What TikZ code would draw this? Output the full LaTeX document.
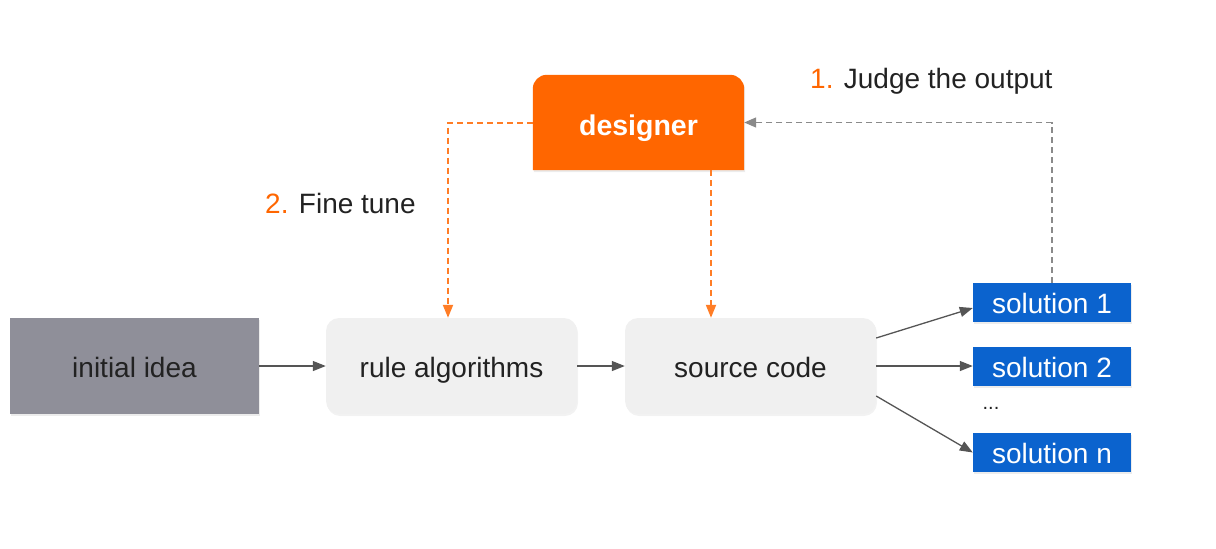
\documentclass[tikz,border=0pt]{standalone}
\usepackage{fontspec}
\setmainfont{Liberation Sans}
\usetikzlibrary{arrows.meta,shadows,backgrounds,calc}

\definecolor{ideagray}{HTML}{8F8F99}
\definecolor{boxgray}{HTML}{F0F0F0}
\definecolor{accent}{HTML}{FF6600}
\definecolor{solblue}{HTML}{0B63CE}
\definecolor{ink}{HTML}{222222}
\definecolor{wire}{HTML}{555555}
\definecolor{dashgray}{HTML}{8A8A8A}

\tikzset{
  base/.style={inner sep=0pt, align=center, text=ink, font=\fontsize{28}{32}\selectfont,
    text height=22pt, text depth=0pt},
  idea/.style={base, fill=ideagray, minimum width=249pt, minimum height=96pt,
    drop shadow={shadow xshift=1pt, shadow yshift=-2pt, opacity=0.15}},
  stage/.style={base, fill=boxgray, rounded corners=13pt, minimum width=251pt, minimum height=96pt,
    drop shadow={shadow xshift=1pt, shadow yshift=-2pt, opacity=0.1}},
  designerbox/.style={base, text=white, font=\fontsize{28.5}{32}\selectfont\bfseries,
    text height=25pt, minimum width=211pt, minimum height=95pt},
  solution/.style={base, fill=solblue, text=white, font=\fontsize{28}{32}\selectfont,
    text height=21.5pt, minimum width=158pt, minimum height=39pt,
    drop shadow={shadow xshift=1pt, shadow yshift=-1.5pt, opacity=0.15}},
  flow/.style={draw=wire, line width=1.3pt, -{Triangle[length=13pt,width=10pt]}},
  tune/.style={draw=accent!85!white, line width=2pt, dash pattern=on 6pt off 4pt,
    -{Triangle[length=13pt,width=10pt]}},
  judge/.style={draw=dashgray, line width=1.4pt, dash pattern=on 6pt off 4pt,
    -{Triangle[length=12pt,width=10pt]}},
  caption/.style={inner sep=0pt, text=ink, anchor=base west, font=\fontsize{28}{32}\selectfont},
}

\begin{document}
\begin{tikzpicture}[x=1pt, y=-1pt]
  \useasboundingbox (0,0) rectangle (1216,549);

  % main pipeline
  \node[idea]  (idea) at (134.5,366) {initial idea};
  \node[stage] (rule) at (451.5,366) {rule algorithms};
  \node[stage] (src)  at (750.5,366) {source code};

  % designer box: rounded top corners, square bottom
  \node[designerbox] (des) at (638.5,122.5) {designer};
  \begin{scope}[on background layer]
    \fill[accent, drop shadow={shadow xshift=1pt, shadow yshift=-2pt, opacity=0.15}]
      (des.south west) [rounded corners=14pt] -- (des.north west) -- (des.north east)
      [sharp corners] -- (des.south east) -- cycle;
  \end{scope}

  % generated solutions
  \node[solution] (s1) at (1052,302.5) {solution 1};
  \node[solution] (s2) at (1052,366.5) {solution 2};
  \node[solution] (sn) at (1052,452.5) {solution n};
  \node[base, font=\fontsize{20}{24}\selectfont, text height=10pt] (dots) at (991,404) {...};

  % forward flow
  \draw[flow] (idea.east) -- (rule.west);
  \draw[flow] (rule.east) -- (src.west);
  \draw[flow] ([yshift=28pt]src.east) -- ([yshift=-5.5pt]s1.west);
  \draw[flow] (src.east) -- (src.east -| s2.west);
  \draw[flow] ([yshift=-30pt]src.east) -- (sn.west);

  % feedback loop
  \draw[judge] (s1.north) |- (des.east);
  \draw[tune] (des.west) -| ([xshift=-3.5pt]rule.north);
  \draw[tune] ([xshift=72.5pt]des.south) -- ([xshift=72.5pt]des.south |- src.north);

  % step labels
  \node[caption] (l1) at (810,88) {\textcolor{accent}{1.} Judge the output};
  \node[caption] (l2) at (265,213) {\textcolor{accent}{2.} Fine tune};
\end{tikzpicture}
\end{document}
